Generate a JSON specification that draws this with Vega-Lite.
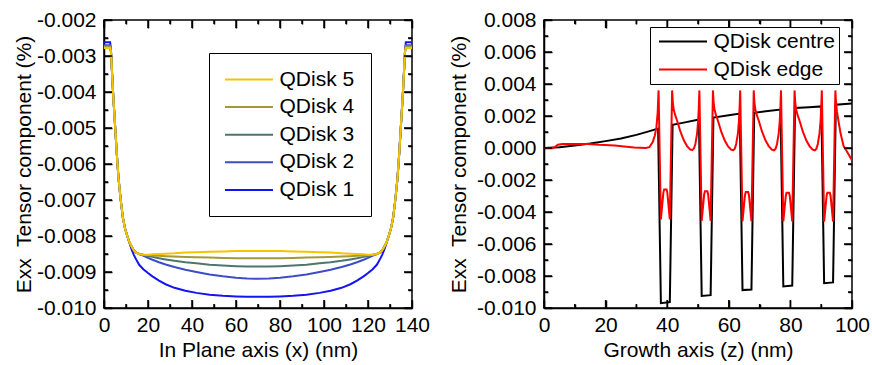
{
  "$schema": "https://vega.github.io/schema/vega-lite/v6.json",
  "padding": {"left": 12, "top": 8, "right": 0, "bottom": 2},
  "background": "white",
  "spacing": 16,
  "resolve": {"scale": {"color": "independent"}},
  "config": {
    "font": "Liberation Sans",
    "view": {"stroke": "black", "strokeWidth": 1.5},
    "axis": {
      "labelFont": "Liberation Sans", "titleFont": "Liberation Sans",
      "labelFontSize": 21, "titleFontSize": 21, "titleFontWeight": "normal",
      "labelColor": "black", "titleColor": "black",
      "domainColor": "black", "domainWidth": 1.5,
      "tickColor": "black", "tickWidth": 1.5,
      "ticks": false, "grid": false,
      "labelOverlap": false, "labelFlush": false, "labelBound": false
    },
    "rule": {"color": "black", "strokeWidth": 1.5},
    "legend": {"labelFont": "Liberation Sans", "labelFontSize": 21, "labelColor": "black"}
  },
  "datasets": {
    "xmajor_plane": [{"t":0},{"t":20},{"t":40},{"t":60},{"t":80},{"t":100},{"t":120},{"t":140}],
    "xminor_plane": [{"t":10},{"t":30},{"t":50},{"t":70},{"t":90},{"t":110},{"t":130}],
    "ymajor_plane": [{"t":-0.01},{"t":-0.009},{"t":-0.008},{"t":-0.007},{"t":-0.006},{"t":-0.005},{"t":-0.004},{"t":-0.003},{"t":-0.002}],
    "yminor_plane": [{"t":-0.0095},{"t":-0.0085},{"t":-0.0075},{"t":-0.0065},{"t":-0.0055},{"t":-0.0045},{"t":-0.0035},{"t":-0.0025}],
    "xmajor_growth": [{"t":0},{"t":20},{"t":40},{"t":60},{"t":80},{"t":100}],
    "xminor_growth": [{"t":10},{"t":30},{"t":50},{"t":70},{"t":90}],
    "ymajor_growth": [{"t":-0.01},{"t":-0.008},{"t":-0.006},{"t":-0.004},{"t":-0.002},{"t":0},{"t":0.002},{"t":0.004},{"t":0.006},{"t":0.008}],
    "yminor_growth": [{"t":-0.009},{"t":-0.007},{"t":-0.005},{"t":-0.003},{"t":-0.001},{"t":0.001},{"t":0.003},{"t":0.005},{"t":0.007}]
  },
  "hconcat": [
    {
      "width": 308, "height": 288,
      "resolve": {"axis": {"x": "independent", "y": "independent"}},
      "layer": [
        {
          "data": {"values": [
            {"x":0,"v":-0.00262,"s":"QDisk 1"},{"x":2.8,"v":-0.00262,"s":"QDisk 1"},{"x":3.2,"v":-0.0029,"s":"QDisk 1"},{"x":3.6,"v":-0.0034,"s":"QDisk 1"},{"x":4.2,"v":-0.0041,"s":"QDisk 1"},{"x":5.0,"v":-0.0049,"s":"QDisk 1"},{"x":5.8,"v":-0.0057,"s":"QDisk 1"},{"x":6.6,"v":-0.0064,"s":"QDisk 1"},{"x":7.6,"v":-0.007,"s":"QDisk 1"},{"x":8.6,"v":-0.0075,"s":"QDisk 1"},{"x":9.6,"v":-0.0078,"s":"QDisk 1"},{"x":10.6,"v":-0.008,"s":"QDisk 1"},{"x":11.6,"v":-0.0082,"s":"QDisk 1"},{"x":12.6,"v":-0.00838,"s":"QDisk 1"},{"x":13.6,"v":-0.00853,"s":"QDisk 1"},{"x":14.6,"v":-0.00865,"s":"QDisk 1"},{"x":16,"v":-0.0088,"s":"QDisk 1"},{"x":18,"v":-0.00893,"s":"QDisk 1"},{"x":20,"v":-0.00903,"s":"QDisk 1"},{"x":22,"v":-0.00912,"s":"QDisk 1"},{"x":25,"v":-0.00924,"s":"QDisk 1"},{"x":28,"v":-0.00934,"s":"QDisk 1"},{"x":32,"v":-0.00944,"s":"QDisk 1"},{"x":37,"v":-0.00952,"s":"QDisk 1"},{"x":42,"v":-0.00958,"s":"QDisk 1"},{"x":48,"v":-0.00963,"s":"QDisk 1"},{"x":54,"v":-0.00966,"s":"QDisk 1"},{"x":60,"v":-0.00968,"s":"QDisk 1"},{"x":65,"v":-0.00969,"s":"QDisk 1"},{"x":70,"v":-0.00969,"s":"QDisk 1"},
            {"x":75,"v":-0.00969,"s":"QDisk 1"},{"x":80,"v":-0.00968,"s":"QDisk 1"},{"x":86,"v":-0.00966,"s":"QDisk 1"},{"x":92,"v":-0.00963,"s":"QDisk 1"},{"x":98,"v":-0.00958,"s":"QDisk 1"},{"x":103,"v":-0.00952,"s":"QDisk 1"},{"x":108,"v":-0.00944,"s":"QDisk 1"},{"x":112,"v":-0.00934,"s":"QDisk 1"},{"x":115,"v":-0.00924,"s":"QDisk 1"},{"x":118,"v":-0.00912,"s":"QDisk 1"},{"x":120,"v":-0.00903,"s":"QDisk 1"},{"x":122,"v":-0.00893,"s":"QDisk 1"},{"x":124,"v":-0.0088,"s":"QDisk 1"},{"x":125.4,"v":-0.00865,"s":"QDisk 1"},{"x":126.4,"v":-0.00853,"s":"QDisk 1"},{"x":127.4,"v":-0.00838,"s":"QDisk 1"},{"x":128.4,"v":-0.0082,"s":"QDisk 1"},{"x":129.4,"v":-0.008,"s":"QDisk 1"},{"x":130.4,"v":-0.0078,"s":"QDisk 1"},{"x":131.4,"v":-0.0075,"s":"QDisk 1"},{"x":132.4,"v":-0.007,"s":"QDisk 1"},{"x":133.4,"v":-0.0064,"s":"QDisk 1"},{"x":134.2,"v":-0.0057,"s":"QDisk 1"},{"x":135,"v":-0.0049,"s":"QDisk 1"},{"x":135.8,"v":-0.0041,"s":"QDisk 1"},{"x":136.4,"v":-0.0034,"s":"QDisk 1"},{"x":136.8,"v":-0.0029,"s":"QDisk 1"},{"x":137.2,"v":-0.00262,"s":"QDisk 1"},{"x":140,"v":-0.00262,"s":"QDisk 1"},

            {"x":0,"v":-0.0027,"s":"QDisk 2"},{"x":2.8,"v":-0.0027,"s":"QDisk 2"},{"x":3.2,"v":-0.0029,"s":"QDisk 2"},{"x":3.6,"v":-0.0034,"s":"QDisk 2"},{"x":4.2,"v":-0.0041,"s":"QDisk 2"},{"x":5.0,"v":-0.0049,"s":"QDisk 2"},{"x":5.8,"v":-0.0057,"s":"QDisk 2"},{"x":6.6,"v":-0.0064,"s":"QDisk 2"},{"x":7.6,"v":-0.007,"s":"QDisk 2"},{"x":8.6,"v":-0.0075,"s":"QDisk 2"},{"x":9.6,"v":-0.0078,"s":"QDisk 2"},{"x":10.6,"v":-0.008,"s":"QDisk 2"},{"x":11.6,"v":-0.00818,"s":"QDisk 2"},{"x":12.6,"v":-0.0083,"s":"QDisk 2"},{"x":13.6,"v":-0.0084,"s":"QDisk 2"},{"x":14.6,"v":-0.00846,"s":"QDisk 2"},{"x":16,"v":-0.0085,"s":"QDisk 2"},{"x":18,"v":-0.00855,"s":"QDisk 2"},{"x":20,"v":-0.00861,"s":"QDisk 2"},{"x":22,"v":-0.00866,"s":"QDisk 2"},{"x":25,"v":-0.00873,"s":"QDisk 2"},{"x":28,"v":-0.00879,"s":"QDisk 2"},{"x":32,"v":-0.00886,"s":"QDisk 2"},{"x":37,"v":-0.00894,"s":"QDisk 2"},{"x":42,"v":-0.009,"s":"QDisk 2"},{"x":48,"v":-0.00907,"s":"QDisk 2"},{"x":54,"v":-0.00912,"s":"QDisk 2"},{"x":60,"v":-0.00916,"s":"QDisk 2"},{"x":65,"v":-0.00918,"s":"QDisk 2"},{"x":70,"v":-0.00919,"s":"QDisk 2"},
            {"x":75,"v":-0.00918,"s":"QDisk 2"},{"x":80,"v":-0.00916,"s":"QDisk 2"},{"x":86,"v":-0.00912,"s":"QDisk 2"},{"x":92,"v":-0.00907,"s":"QDisk 2"},{"x":98,"v":-0.009,"s":"QDisk 2"},{"x":103,"v":-0.00894,"s":"QDisk 2"},{"x":108,"v":-0.00886,"s":"QDisk 2"},{"x":112,"v":-0.00879,"s":"QDisk 2"},{"x":115,"v":-0.00873,"s":"QDisk 2"},{"x":118,"v":-0.00866,"s":"QDisk 2"},{"x":120,"v":-0.00861,"s":"QDisk 2"},{"x":122,"v":-0.00855,"s":"QDisk 2"},{"x":124,"v":-0.0085,"s":"QDisk 2"},{"x":125.4,"v":-0.00846,"s":"QDisk 2"},{"x":126.4,"v":-0.0084,"s":"QDisk 2"},{"x":127.4,"v":-0.0083,"s":"QDisk 2"},{"x":128.4,"v":-0.00818,"s":"QDisk 2"},{"x":129.4,"v":-0.008,"s":"QDisk 2"},{"x":130.4,"v":-0.0078,"s":"QDisk 2"},{"x":131.4,"v":-0.0075,"s":"QDisk 2"},{"x":132.4,"v":-0.007,"s":"QDisk 2"},{"x":133.4,"v":-0.0064,"s":"QDisk 2"},{"x":134.2,"v":-0.0057,"s":"QDisk 2"},{"x":135,"v":-0.0049,"s":"QDisk 2"},{"x":135.8,"v":-0.0041,"s":"QDisk 2"},{"x":136.4,"v":-0.0034,"s":"QDisk 2"},{"x":136.8,"v":-0.0029,"s":"QDisk 2"},{"x":137.2,"v":-0.0027,"s":"QDisk 2"},{"x":140,"v":-0.0027,"s":"QDisk 2"},

            {"x":0,"v":-0.00272,"s":"QDisk 3"},{"x":2.8,"v":-0.00272,"s":"QDisk 3"},{"x":3.2,"v":-0.0029,"s":"QDisk 3"},{"x":3.6,"v":-0.0034,"s":"QDisk 3"},{"x":4.2,"v":-0.0041,"s":"QDisk 3"},{"x":5.0,"v":-0.0049,"s":"QDisk 3"},{"x":5.8,"v":-0.0057,"s":"QDisk 3"},{"x":6.6,"v":-0.0064,"s":"QDisk 3"},{"x":7.6,"v":-0.007,"s":"QDisk 3"},{"x":8.6,"v":-0.0075,"s":"QDisk 3"},{"x":9.6,"v":-0.0078,"s":"QDisk 3"},{"x":10.6,"v":-0.008,"s":"QDisk 3"},{"x":11.6,"v":-0.00818,"s":"QDisk 3"},{"x":12.6,"v":-0.0083,"s":"QDisk 3"},{"x":13.6,"v":-0.0084,"s":"QDisk 3"},{"x":14.6,"v":-0.00846,"s":"QDisk 3"},{"x":16,"v":-0.0085,"s":"QDisk 3"},{"x":18,"v":-0.00853,"s":"QDisk 3"},{"x":20,"v":-0.00856,"s":"QDisk 3"},{"x":22,"v":-0.00858,"s":"QDisk 3"},{"x":25,"v":-0.00862,"s":"QDisk 3"},{"x":28,"v":-0.00865,"s":"QDisk 3"},{"x":32,"v":-0.00869,"s":"QDisk 3"},{"x":37,"v":-0.00873,"s":"QDisk 3"},{"x":42,"v":-0.00876,"s":"QDisk 3"},{"x":48,"v":-0.0088,"s":"QDisk 3"},{"x":54,"v":-0.00882,"s":"QDisk 3"},{"x":60,"v":-0.00884,"s":"QDisk 3"},{"x":65,"v":-0.00885,"s":"QDisk 3"},{"x":70,"v":-0.00885,"s":"QDisk 3"},
            {"x":75,"v":-0.00885,"s":"QDisk 3"},{"x":80,"v":-0.00884,"s":"QDisk 3"},{"x":86,"v":-0.00882,"s":"QDisk 3"},{"x":92,"v":-0.0088,"s":"QDisk 3"},{"x":98,"v":-0.00876,"s":"QDisk 3"},{"x":103,"v":-0.00873,"s":"QDisk 3"},{"x":108,"v":-0.00869,"s":"QDisk 3"},{"x":112,"v":-0.00865,"s":"QDisk 3"},{"x":115,"v":-0.00862,"s":"QDisk 3"},{"x":118,"v":-0.00858,"s":"QDisk 3"},{"x":120,"v":-0.00856,"s":"QDisk 3"},{"x":122,"v":-0.00853,"s":"QDisk 3"},{"x":124,"v":-0.0085,"s":"QDisk 3"},{"x":125.4,"v":-0.00846,"s":"QDisk 3"},{"x":126.4,"v":-0.0084,"s":"QDisk 3"},{"x":127.4,"v":-0.0083,"s":"QDisk 3"},{"x":128.4,"v":-0.00818,"s":"QDisk 3"},{"x":129.4,"v":-0.008,"s":"QDisk 3"},{"x":130.4,"v":-0.0078,"s":"QDisk 3"},{"x":131.4,"v":-0.0075,"s":"QDisk 3"},{"x":132.4,"v":-0.007,"s":"QDisk 3"},{"x":133.4,"v":-0.0064,"s":"QDisk 3"},{"x":134.2,"v":-0.0057,"s":"QDisk 3"},{"x":135,"v":-0.0049,"s":"QDisk 3"},{"x":135.8,"v":-0.0041,"s":"QDisk 3"},{"x":136.4,"v":-0.0034,"s":"QDisk 3"},{"x":136.8,"v":-0.0029,"s":"QDisk 3"},{"x":137.2,"v":-0.00272,"s":"QDisk 3"},{"x":140,"v":-0.00272,"s":"QDisk 3"},

            {"x":0,"v":-0.00274,"s":"QDisk 4"},{"x":2.8,"v":-0.00274,"s":"QDisk 4"},{"x":3.2,"v":-0.0029,"s":"QDisk 4"},{"x":3.6,"v":-0.0034,"s":"QDisk 4"},{"x":4.2,"v":-0.0041,"s":"QDisk 4"},{"x":5.0,"v":-0.0049,"s":"QDisk 4"},{"x":5.8,"v":-0.0057,"s":"QDisk 4"},{"x":6.6,"v":-0.0064,"s":"QDisk 4"},{"x":7.6,"v":-0.007,"s":"QDisk 4"},{"x":8.6,"v":-0.0075,"s":"QDisk 4"},{"x":9.6,"v":-0.0078,"s":"QDisk 4"},{"x":10.6,"v":-0.008,"s":"QDisk 4"},{"x":11.6,"v":-0.00818,"s":"QDisk 4"},{"x":12.6,"v":-0.0083,"s":"QDisk 4"},{"x":13.6,"v":-0.0084,"s":"QDisk 4"},{"x":14.6,"v":-0.00846,"s":"QDisk 4"},{"x":16,"v":-0.0085,"s":"QDisk 4"},{"x":18,"v":-0.00852,"s":"QDisk 4"},{"x":20,"v":-0.00853,"s":"QDisk 4"},{"x":22,"v":-0.00854,"s":"QDisk 4"},{"x":25,"v":-0.00855,"s":"QDisk 4"},{"x":28,"v":-0.00856,"s":"QDisk 4"},{"x":32,"v":-0.00857,"s":"QDisk 4"},{"x":37,"v":-0.00858,"s":"QDisk 4"},{"x":42,"v":-0.00859,"s":"QDisk 4"},{"x":48,"v":-0.0086,"s":"QDisk 4"},{"x":54,"v":-0.00861,"s":"QDisk 4"},{"x":60,"v":-0.00862,"s":"QDisk 4"},{"x":65,"v":-0.00862,"s":"QDisk 4"},{"x":70,"v":-0.00862,"s":"QDisk 4"},
            {"x":75,"v":-0.00862,"s":"QDisk 4"},{"x":80,"v":-0.00862,"s":"QDisk 4"},{"x":86,"v":-0.00861,"s":"QDisk 4"},{"x":92,"v":-0.0086,"s":"QDisk 4"},{"x":98,"v":-0.00859,"s":"QDisk 4"},{"x":103,"v":-0.00858,"s":"QDisk 4"},{"x":108,"v":-0.00857,"s":"QDisk 4"},{"x":112,"v":-0.00856,"s":"QDisk 4"},{"x":115,"v":-0.00855,"s":"QDisk 4"},{"x":118,"v":-0.00854,"s":"QDisk 4"},{"x":120,"v":-0.00853,"s":"QDisk 4"},{"x":122,"v":-0.00852,"s":"QDisk 4"},{"x":124,"v":-0.0085,"s":"QDisk 4"},{"x":125.4,"v":-0.00846,"s":"QDisk 4"},{"x":126.4,"v":-0.0084,"s":"QDisk 4"},{"x":127.4,"v":-0.0083,"s":"QDisk 4"},{"x":128.4,"v":-0.00818,"s":"QDisk 4"},{"x":129.4,"v":-0.008,"s":"QDisk 4"},{"x":130.4,"v":-0.0078,"s":"QDisk 4"},{"x":131.4,"v":-0.0075,"s":"QDisk 4"},{"x":132.4,"v":-0.007,"s":"QDisk 4"},{"x":133.4,"v":-0.0064,"s":"QDisk 4"},{"x":134.2,"v":-0.0057,"s":"QDisk 4"},{"x":135,"v":-0.0049,"s":"QDisk 4"},{"x":135.8,"v":-0.0041,"s":"QDisk 4"},{"x":136.4,"v":-0.0034,"s":"QDisk 4"},{"x":136.8,"v":-0.0029,"s":"QDisk 4"},{"x":137.2,"v":-0.00274,"s":"QDisk 4"},{"x":140,"v":-0.00274,"s":"QDisk 4"},

            {"x":0,"v":-0.00278,"s":"QDisk 5"},{"x":2.8,"v":-0.00278,"s":"QDisk 5"},{"x":3.2,"v":-0.0029,"s":"QDisk 5"},{"x":3.6,"v":-0.0034,"s":"QDisk 5"},{"x":4.2,"v":-0.0041,"s":"QDisk 5"},{"x":5.0,"v":-0.0049,"s":"QDisk 5"},{"x":5.8,"v":-0.0057,"s":"QDisk 5"},{"x":6.6,"v":-0.0064,"s":"QDisk 5"},{"x":7.6,"v":-0.007,"s":"QDisk 5"},{"x":8.6,"v":-0.0075,"s":"QDisk 5"},{"x":9.6,"v":-0.0078,"s":"QDisk 5"},{"x":10.6,"v":-0.008,"s":"QDisk 5"},{"x":11.6,"v":-0.00818,"s":"QDisk 5"},{"x":12.6,"v":-0.0083,"s":"QDisk 5"},{"x":13.6,"v":-0.0084,"s":"QDisk 5"},{"x":14.6,"v":-0.00846,"s":"QDisk 5"},{"x":16,"v":-0.0085,"s":"QDisk 5"},{"x":18,"v":-0.00852,"s":"QDisk 5"},{"x":20,"v":-0.00852,"s":"QDisk 5"},{"x":22,"v":-0.00851,"s":"QDisk 5"},{"x":25,"v":-0.0085,"s":"QDisk 5"},{"x":28,"v":-0.00849,"s":"QDisk 5"},{"x":32,"v":-0.00848,"s":"QDisk 5"},{"x":37,"v":-0.00846,"s":"QDisk 5"},{"x":42,"v":-0.00845,"s":"QDisk 5"},{"x":48,"v":-0.00844,"s":"QDisk 5"},{"x":54,"v":-0.00843,"s":"QDisk 5"},{"x":60,"v":-0.00842,"s":"QDisk 5"},{"x":65,"v":-0.00842,"s":"QDisk 5"},{"x":70,"v":-0.00842,"s":"QDisk 5"},
            {"x":75,"v":-0.00842,"s":"QDisk 5"},{"x":80,"v":-0.00842,"s":"QDisk 5"},{"x":86,"v":-0.00843,"s":"QDisk 5"},{"x":92,"v":-0.00844,"s":"QDisk 5"},{"x":98,"v":-0.00845,"s":"QDisk 5"},{"x":103,"v":-0.00846,"s":"QDisk 5"},{"x":108,"v":-0.00848,"s":"QDisk 5"},{"x":112,"v":-0.00849,"s":"QDisk 5"},{"x":115,"v":-0.0085,"s":"QDisk 5"},{"x":118,"v":-0.00851,"s":"QDisk 5"},{"x":120,"v":-0.00852,"s":"QDisk 5"},{"x":122,"v":-0.00852,"s":"QDisk 5"},{"x":124,"v":-0.0085,"s":"QDisk 5"},{"x":125.4,"v":-0.00846,"s":"QDisk 5"},{"x":126.4,"v":-0.0084,"s":"QDisk 5"},{"x":127.4,"v":-0.0083,"s":"QDisk 5"},{"x":128.4,"v":-0.00818,"s":"QDisk 5"},{"x":129.4,"v":-0.008,"s":"QDisk 5"},{"x":130.4,"v":-0.0078,"s":"QDisk 5"},{"x":131.4,"v":-0.0075,"s":"QDisk 5"},{"x":132.4,"v":-0.007,"s":"QDisk 5"},{"x":133.4,"v":-0.0064,"s":"QDisk 5"},{"x":134.2,"v":-0.0057,"s":"QDisk 5"},{"x":135,"v":-0.0049,"s":"QDisk 5"},{"x":135.8,"v":-0.0041,"s":"QDisk 5"},{"x":136.4,"v":-0.0034,"s":"QDisk 5"},{"x":136.8,"v":-0.0029,"s":"QDisk 5"},{"x":137.2,"v":-0.00278,"s":"QDisk 5"},{"x":140,"v":-0.00278,"s":"QDisk 5"}
          ]},
          "mark": {"type": "line", "strokeWidth": 2, "clip": true},
          "encoding": {
            "x": {
              "field": "x", "type": "quantitative",
              "scale": {"domain": [0, 140], "nice": false, "zero": false},
              "axis": {
                "orient": "bottom",
                "title": "In Plane axis (x) (nm)",
                "values": [0, 20, 40, 60, 80, 100, 120, 140],
                "labelPadding": 6, "titlePadding": 4
              }
            },
            "y": {
              "field": "v", "type": "quantitative",
              "scale": {"domain": [-0.01, -0.002], "nice": false, "zero": false},
              "axis": {
                "orient": "left",
                "title": "Exx\u00a0 Tensor component (%)",
                "values": [-0.01, -0.009, -0.008, -0.007, -0.006, -0.005, -0.004, -0.003, -0.002],
                "labelExpr": "(datum.value < 0 ? '-' : '') + format(abs(datum.value), '.3f')",
                "labelPadding": 8, "titlePadding": 2
              }
            },
            "color": {
              "field": "s", "type": "nominal",
              "scale": {"domain": ["QDisk 5", "QDisk 4", "QDisk 3", "QDisk 2", "QDisk 1"], "range": ["#F5C400", "#A09A3A", "#4E766C", "#3D4DC6", "#1414F2"]},
              "legend": {
                "title": null, "orient": "none", "legendX": 105, "legendY": 33, "direction": "vertical",
                "symbolType": "M-3,0H3", "symbolSize": 256, "symbolStrokeWidth": 2,
                "labelFontSize": 21, "labelFont": "Liberation Sans", "labelColor": "black",
                "symbolOffset": 13.5, "labelOffset": 20, "rowPadding": 5.6, "padding": 16,
                "strokeColor": "black", "fillColor": "white"
              }
            }
          }
        },
        {"data": {"name": "xmajor_plane"}, "mark": "rule", "encoding": {
          "x": {"field": "t", "type": "quantitative", "axis": {"orient": "bottom", "offset": -8, "values": [0, 20, 40, 60, 80, 100, 120, 140], "ticks": true, "tickSize": 8, "labels": false, "domain": false, "title": null, "minExtent": 0, "maxExtent": 0}},
          "y": {"datum": -0.01, "axis": null}, "y2": {"datum": -0.009778}}},
        {"data": {"name": "xminor_plane"}, "mark": "rule", "encoding": {
          "x": {"field": "t", "type": "quantitative", "axis": {"orient": "bottom", "offset": -4, "values": [10, 30, 50, 70, 90, 110, 130], "ticks": true, "tickSize": 4, "labels": false, "domain": false, "title": null, "minExtent": 0, "maxExtent": 0}},
          "y": {"datum": -0.01, "axis": null}, "y2": {"datum": -0.009889}}},
        {"data": {"name": "xmajor_plane"}, "mark": "rule", "encoding": {
          "x": {"field": "t", "type": "quantitative", "axis": {"orient": "top", "offset": -8, "values": [0, 20, 40, 60, 80, 100, 120, 140], "ticks": true, "tickSize": 8, "labels": false, "domain": false, "title": null, "minExtent": 0, "maxExtent": 0}},
          "y": {"datum": -0.002, "axis": null}, "y2": {"datum": -0.002222}}},
        {"data": {"name": "xminor_plane"}, "mark": "rule", "encoding": {
          "x": {"field": "t", "type": "quantitative", "axis": {"orient": "top", "offset": -4, "values": [10, 30, 50, 70, 90, 110, 130], "ticks": true, "tickSize": 4, "labels": false, "domain": false, "title": null, "minExtent": 0, "maxExtent": 0}},
          "y": {"datum": -0.002, "axis": null}, "y2": {"datum": -0.002111}}},
        {"data": {"name": "ymajor_plane"}, "mark": "rule", "encoding": {
          "y": {"field": "t", "type": "quantitative", "axis": {"orient": "left", "offset": -8, "values": [-0.01, -0.009, -0.008, -0.007, -0.006, -0.005, -0.004, -0.003, -0.002], "ticks": true, "tickSize": 8, "labels": false, "domain": false, "title": null, "minExtent": 0, "maxExtent": 0}},
          "x": {"datum": 0, "axis": null}, "x2": {"datum": 3.636}}},
        {"data": {"name": "yminor_plane"}, "mark": "rule", "encoding": {
          "y": {"field": "t", "type": "quantitative", "axis": {"orient": "left", "offset": -4, "values": [-0.0095, -0.0085, -0.0075, -0.0065, -0.0055, -0.0045, -0.0035, -0.0025], "ticks": true, "tickSize": 4, "labels": false, "domain": false, "title": null, "minExtent": 0, "maxExtent": 0}},
          "x": {"datum": 0, "axis": null}, "x2": {"datum": 1.818}}},
        {"data": {"name": "ymajor_plane"}, "mark": "rule", "encoding": {
          "y": {"field": "t", "type": "quantitative", "axis": {"orient": "right", "offset": -8, "values": [-0.01, -0.009, -0.008, -0.007, -0.006, -0.005, -0.004, -0.003, -0.002], "ticks": true, "tickSize": 8, "labels": false, "domain": false, "title": null, "minExtent": 0, "maxExtent": 0}},
          "x": {"datum": 140, "axis": null}, "x2": {"datum": 136.364}}},
        {"data": {"name": "yminor_plane"}, "mark": "rule", "encoding": {
          "y": {"field": "t", "type": "quantitative", "axis": {"orient": "right", "offset": -4, "values": [-0.0095, -0.0085, -0.0075, -0.0065, -0.0055, -0.0045, -0.0035, -0.0025], "ticks": true, "tickSize": 4, "labels": false, "domain": false, "title": null, "minExtent": 0, "maxExtent": 0}},
          "x": {"datum": 140, "axis": null}, "x2": {"datum": 138.182}}}
      ]
    },
    {
      "width": 308, "height": 288,
      "resolve": {"axis": {"x": "independent", "y": "independent"}},
      "layer": [
        {
          "data": {"values": [
            {"x":0,"v":0,"s":"QDisk centre"},{"x":5,"v":0.00005,"s":"QDisk centre"},{"x":10,"v":0.00016,"s":"QDisk centre"},{"x":15,"v":0.00028,"s":"QDisk centre"},{"x":20,"v":0.00043,"s":"QDisk centre"},{"x":25,"v":0.0006,"s":"QDisk centre"},{"x":30,"v":0.00082,"s":"QDisk centre"},{"x":34,"v":0.00104,"s":"QDisk centre"},{"x":37.05,"v":0.00122,"s":"QDisk centre"},
            {"x":37.95,"v":-0.0097,"s":"QDisk centre"},{"x":40.85,"v":-0.00963,"s":"QDisk centre"},{"x":41.75,"v":0.00145,"s":"QDisk centre"},{"x":45,"v":0.00157,"s":"QDisk centre"},{"x":50.3,"v":0.00178,"s":"QDisk centre"},
            {"x":51.2,"v":-0.00925,"s":"QDisk centre"},{"x":54.1,"v":-0.0092,"s":"QDisk centre"},{"x":55.0,"v":0.0019,"s":"QDisk centre"},{"x":60,"v":0.00205,"s":"QDisk centre"},{"x":63.55,"v":0.00215,"s":"QDisk centre"},
            {"x":64.45,"v":-0.00888,"s":"QDisk centre"},{"x":67.35,"v":-0.00885,"s":"QDisk centre"},{"x":68.25,"v":0.0022,"s":"QDisk centre"},{"x":72,"v":0.0023,"s":"QDisk centre"},{"x":76.8,"v":0.0024,"s":"QDisk centre"},
            {"x":77.7,"v":-0.00865,"s":"QDisk centre"},{"x":80.6,"v":-0.0086,"s":"QDisk centre"},{"x":81.5,"v":0.0025,"s":"QDisk centre"},{"x":86,"v":0.00255,"s":"QDisk centre"},{"x":90.05,"v":0.0026,"s":"QDisk centre"},
            {"x":90.95,"v":-0.00845,"s":"QDisk centre"},{"x":93.85,"v":-0.0084,"s":"QDisk centre"},{"x":94.75,"v":0.0027,"s":"QDisk centre"},{"x":100,"v":0.00278,"s":"QDisk centre"},

            {"x":0,"v":0,"s":"QDisk edge"},{"x":2.8,"v":0,"s":"QDisk edge"},{"x":3.5,"v":0.00006,"s":"QDisk edge"},{"x":4.5,"v":0.0002,"s":"QDisk edge"},{"x":6,"v":0.00025,"s":"QDisk edge"},{"x":14,"v":0.00025,"s":"QDisk edge"},{"x":18,"v":0.0002,"s":"QDisk edge"},{"x":23,"v":0.00016,"s":"QDisk edge"},{"x":26,"v":0.0001,"s":"QDisk edge"},{"x":29.3,"v":0.00003,"s":"QDisk edge"},{"x":33,"v":0.0,"s":"QDisk edge"},{"x":34.2,"v":0.00005,"s":"QDisk edge"},{"x":35.3,"v":0.00037,"s":"QDisk edge"},{"x":36.0,"v":0.0008,"s":"QDisk edge"},{"x":36.5,"v":0.0013,"s":"QDisk edge"},{"x":36.9,"v":0.0022,"s":"QDisk edge"},
            {"x":37.2,"v":0.0036,"s":"QDisk edge"},{"x":37.95,"v":-0.00446,"s":"QDisk edge"},{"x":38.75,"v":-0.0028,"s":"QDisk edge"},{"x":39.0,"v":-0.0026,"s":"QDisk edge"},{"x":39.8,"v":-0.0026,"s":"QDisk edge"},{"x":40.05,"v":-0.0028,"s":"QDisk edge"},{"x":40.85,"v":-0.00446,"s":"QDisk edge"},{"x":41.6,"v":0.0036,"s":"QDisk edge"},
            {"x":41.8,"v":0.0029,"s":"QDisk edge"},{"x":42.1,"v":0.0024,"s":"QDisk edge"},{"x":42.6,"v":0.00205,"s":"QDisk edge"},{"x":43.2,"v":0.00172,"s":"QDisk edge"},{"x":44.3,"v":0.00102,"s":"QDisk edge"},{"x":45.4,"v":0.00048,"s":"QDisk edge"},{"x":46.45,"v":0.00012,"s":"QDisk edge"},{"x":47.5,"v":-0.0001,"s":"QDisk edge"},{"x":48.2,"v":-0.00012,"s":"QDisk edge"},{"x":48.7,"v":-0.00002,"s":"QDisk edge"},{"x":49.15,"v":0.00025,"s":"QDisk edge"},{"x":49.7,"v":0.0009,"s":"QDisk edge"},{"x":50.05,"v":0.0017,"s":"QDisk edge"},{"x":50.25,"v":0.0025,"s":"QDisk edge"},
            {"x":50.45,"v":0.0036,"s":"QDisk edge"},{"x":51.2,"v":-0.00455,"s":"QDisk edge"},{"x":52.0,"v":-0.0029,"s":"QDisk edge"},{"x":52.25,"v":-0.0027,"s":"QDisk edge"},{"x":53.05,"v":-0.0027,"s":"QDisk edge"},{"x":53.3,"v":-0.0029,"s":"QDisk edge"},{"x":54.1,"v":-0.00455,"s":"QDisk edge"},{"x":54.85,"v":0.0036,"s":"QDisk edge"},
            {"x":55.05,"v":0.0029,"s":"QDisk edge"},{"x":55.35,"v":0.0024,"s":"QDisk edge"},{"x":55.85,"v":0.00205,"s":"QDisk edge"},{"x":56.45,"v":0.00172,"s":"QDisk edge"},{"x":57.55,"v":0.00102,"s":"QDisk edge"},{"x":58.65,"v":0.00048,"s":"QDisk edge"},{"x":59.7,"v":0.00012,"s":"QDisk edge"},{"x":60.75,"v":-0.0001,"s":"QDisk edge"},{"x":61.45,"v":-0.00014,"s":"QDisk edge"},{"x":61.95,"v":-0.00004,"s":"QDisk edge"},{"x":62.4,"v":0.00025,"s":"QDisk edge"},{"x":62.95,"v":0.0009,"s":"QDisk edge"},{"x":63.3,"v":0.0017,"s":"QDisk edge"},{"x":63.5,"v":0.0025,"s":"QDisk edge"},
            {"x":63.7,"v":0.0036,"s":"QDisk edge"},{"x":64.45,"v":-0.00457,"s":"QDisk edge"},{"x":65.25,"v":-0.00295,"s":"QDisk edge"},{"x":65.5,"v":-0.00275,"s":"QDisk edge"},{"x":66.3,"v":-0.00275,"s":"QDisk edge"},{"x":66.55,"v":-0.00295,"s":"QDisk edge"},{"x":67.35,"v":-0.00457,"s":"QDisk edge"},{"x":68.1,"v":0.0036,"s":"QDisk edge"},
            {"x":68.3,"v":0.0029,"s":"QDisk edge"},{"x":68.6,"v":0.0024,"s":"QDisk edge"},{"x":69.1,"v":0.00205,"s":"QDisk edge"},{"x":69.7,"v":0.00172,"s":"QDisk edge"},{"x":70.8,"v":0.00102,"s":"QDisk edge"},{"x":71.9,"v":0.00048,"s":"QDisk edge"},{"x":72.95,"v":0.00012,"s":"QDisk edge"},{"x":74.0,"v":-0.0001,"s":"QDisk edge"},{"x":74.7,"v":-0.00015,"s":"QDisk edge"},{"x":75.2,"v":-0.00004,"s":"QDisk edge"},{"x":75.65,"v":0.00025,"s":"QDisk edge"},{"x":76.2,"v":0.0009,"s":"QDisk edge"},{"x":76.55,"v":0.0017,"s":"QDisk edge"},{"x":76.75,"v":0.0025,"s":"QDisk edge"},
            {"x":76.95,"v":0.0036,"s":"QDisk edge"},{"x":77.7,"v":-0.00458,"s":"QDisk edge"},{"x":78.5,"v":-0.003,"s":"QDisk edge"},{"x":78.75,"v":-0.0028,"s":"QDisk edge"},{"x":79.55,"v":-0.0028,"s":"QDisk edge"},{"x":79.8,"v":-0.003,"s":"QDisk edge"},{"x":80.6,"v":-0.00458,"s":"QDisk edge"},{"x":81.35,"v":0.0036,"s":"QDisk edge"},
            {"x":81.55,"v":0.0029,"s":"QDisk edge"},{"x":81.85,"v":0.0024,"s":"QDisk edge"},{"x":82.35,"v":0.00205,"s":"QDisk edge"},{"x":82.95,"v":0.00172,"s":"QDisk edge"},{"x":84.05,"v":0.00102,"s":"QDisk edge"},{"x":85.15,"v":0.00048,"s":"QDisk edge"},{"x":86.2,"v":0.00012,"s":"QDisk edge"},{"x":87.25,"v":-0.0001,"s":"QDisk edge"},{"x":87.95,"v":-0.00015,"s":"QDisk edge"},{"x":88.45,"v":-0.00004,"s":"QDisk edge"},{"x":88.9,"v":0.00025,"s":"QDisk edge"},{"x":89.45,"v":0.0009,"s":"QDisk edge"},{"x":89.8,"v":0.0017,"s":"QDisk edge"},{"x":90.0,"v":0.0025,"s":"QDisk edge"},
            {"x":90.2,"v":0.0036,"s":"QDisk edge"},{"x":90.95,"v":-0.0046,"s":"QDisk edge"},{"x":91.75,"v":-0.003,"s":"QDisk edge"},{"x":92.0,"v":-0.0028,"s":"QDisk edge"},{"x":92.8,"v":-0.0028,"s":"QDisk edge"},{"x":93.05,"v":-0.003,"s":"QDisk edge"},{"x":93.85,"v":-0.0046,"s":"QDisk edge"},{"x":94.6,"v":0.0036,"s":"QDisk edge"},
            {"x":94.8,"v":0.0029,"s":"QDisk edge"},{"x":95.1,"v":0.0023,"s":"QDisk edge"},{"x":95.6,"v":0.0017,"s":"QDisk edge"},{"x":96.3,"v":0.0009,"s":"QDisk edge"},{"x":97.3,"v":0.0001,"s":"QDisk edge"},{"x":98.3,"v":-0.0002,"s":"QDisk edge"},{"x":99.2,"v":-0.0005,"s":"QDisk edge"},{"x":100,"v":-0.00077,"s":"QDisk edge"}
          ]},
          "mark": {"type": "line", "strokeWidth": 2, "clip": true},
          "encoding": {
            "x": {
              "field": "x", "type": "quantitative",
              "scale": {"domain": [0, 100], "nice": false, "zero": false},
              "axis": {
                "orient": "bottom",
                "title": "Growth axis (z) (nm)",
                "values": [0, 20, 40, 60, 80, 100],
                "labelPadding": 6, "titlePadding": 4
              }
            },
            "y": {
              "field": "v", "type": "quantitative",
              "scale": {"domain": [-0.01, 0.008], "nice": false, "zero": false},
              "axis": {
                "orient": "left",
                "title": "Exx\u00a0 Tensor component (%)",
                "values": [-0.01, -0.008, -0.006, -0.004, -0.002, 0, 0.002, 0.004, 0.006, 0.008],
                "labelExpr": "(datum.value < 0 ? '-' : '') + format(abs(datum.value), '.3f')",
                "labelPadding": 8, "titlePadding": 7
              }
            },
            "color": {
              "field": "s", "type": "nominal",
              "scale": {"domain": ["QDisk centre", "QDisk edge"], "range": ["#000000", "#FF0000"]},
              "legend": {
                "title": null, "orient": "none", "legendX": 106, "legendY": 7, "direction": "vertical",
                "symbolType": "M-3,0H3", "symbolSize": 256, "symbolStrokeWidth": 2,
                "labelFontSize": 21, "labelFont": "Liberation Sans", "labelColor": "black",
                "symbolOffset": 18.5, "labelOffset": 20, "rowPadding": 6, "padding": 4,
                "strokeColor": "black", "fillColor": "white"
              }
            }
          }
        },
        {"data": {"name": "xmajor_growth"}, "mark": "rule", "encoding": {
          "x": {"field": "t", "type": "quantitative", "axis": {"orient": "bottom", "offset": -8, "values": [0, 20, 40, 60, 80, 100], "ticks": true, "tickSize": 8, "labels": false, "domain": false, "title": null, "minExtent": 0, "maxExtent": 0}},
          "y": {"datum": -0.01, "axis": null}, "y2": {"datum": -0.0095}}},
        {"data": {"name": "xminor_growth"}, "mark": "rule", "encoding": {
          "x": {"field": "t", "type": "quantitative", "axis": {"orient": "bottom", "offset": -4, "values": [10, 30, 50, 70, 90], "ticks": true, "tickSize": 4, "labels": false, "domain": false, "title": null, "minExtent": 0, "maxExtent": 0}},
          "y": {"datum": -0.01, "axis": null}, "y2": {"datum": -0.00975}}},
        {"data": {"name": "xmajor_growth"}, "mark": "rule", "encoding": {
          "x": {"field": "t", "type": "quantitative", "axis": {"orient": "top", "offset": -8, "values": [0, 20, 40, 60, 80, 100], "ticks": true, "tickSize": 8, "labels": false, "domain": false, "title": null, "minExtent": 0, "maxExtent": 0}},
          "y": {"datum": 0.008, "axis": null}, "y2": {"datum": 0.0075}}},
        {"data": {"name": "xminor_growth"}, "mark": "rule", "encoding": {
          "x": {"field": "t", "type": "quantitative", "axis": {"orient": "top", "offset": -4, "values": [10, 30, 50, 70, 90], "ticks": true, "tickSize": 4, "labels": false, "domain": false, "title": null, "minExtent": 0, "maxExtent": 0}},
          "y": {"datum": 0.008, "axis": null}, "y2": {"datum": 0.00775}}},
        {"data": {"name": "ymajor_growth"}, "mark": "rule", "encoding": {
          "y": {"field": "t", "type": "quantitative", "axis": {"orient": "left", "offset": -8, "values": [-0.01, -0.008, -0.006, -0.004, -0.002, 0, 0.002, 0.004, 0.006, 0.008], "ticks": true, "tickSize": 8, "labels": false, "domain": false, "title": null, "minExtent": 0, "maxExtent": 0}},
          "x": {"datum": 0, "axis": null}, "x2": {"datum": 2.597}}},
        {"data": {"name": "yminor_growth"}, "mark": "rule", "encoding": {
          "y": {"field": "t", "type": "quantitative", "axis": {"orient": "left", "offset": -4, "values": [-0.009, -0.007, -0.005, -0.003, -0.001, 0.001, 0.003, 0.005, 0.007], "ticks": true, "tickSize": 4, "labels": false, "domain": false, "title": null, "minExtent": 0, "maxExtent": 0}},
          "x": {"datum": 0, "axis": null}, "x2": {"datum": 1.299}}},
        {"data": {"name": "ymajor_growth"}, "mark": "rule", "encoding": {
          "y": {"field": "t", "type": "quantitative", "axis": {"orient": "right", "offset": -8, "values": [-0.01, -0.008, -0.006, -0.004, -0.002, 0, 0.002, 0.004, 0.006, 0.008], "ticks": true, "tickSize": 8, "labels": false, "domain": false, "title": null, "minExtent": 0, "maxExtent": 0}},
          "x": {"datum": 100, "axis": null}, "x2": {"datum": 97.403}}},
        {"data": {"name": "yminor_growth"}, "mark": "rule", "encoding": {
          "y": {"field": "t", "type": "quantitative", "axis": {"orient": "right", "offset": -4, "values": [-0.009, -0.007, -0.005, -0.003, -0.001, 0.001, 0.003, 0.005, 0.007], "ticks": true, "tickSize": 4, "labels": false, "domain": false, "title": null, "minExtent": 0, "maxExtent": 0}},
          "x": {"datum": 100, "axis": null}, "x2": {"datum": 98.701}}}
      ]
    }
  ]
}
